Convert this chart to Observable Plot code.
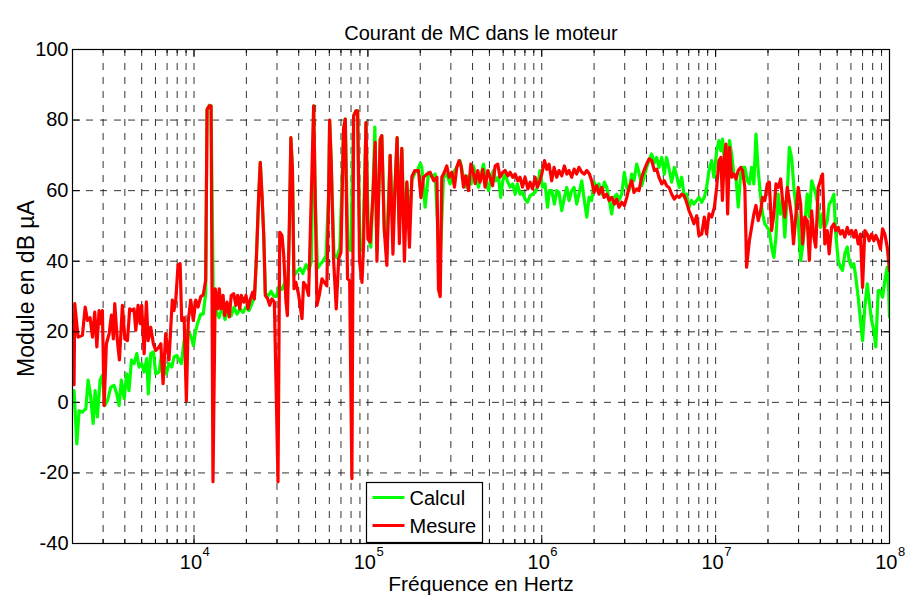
<!DOCTYPE html>
<html><head><meta charset="utf-8">
<script src="https://cdn.jsdelivr.net/npm/d3@7"></script>
<script src="https://cdn.jsdelivr.net/npm/@observablehq/plot@0.6"></script>
<style>
body{margin:0;background:#fff;}
svg{font-family:"Liberation Sans",Arial,Helvetica,sans-serif;}
</style>
</head><body><div id="chart"></div>
<script>
// ---- Data (log10 of frequency in Hz, level in dBµA) ----
const calculLogF = [
3.310,3.326,3.339,3.358,3.378,3.391,3.406,3.420,3.431,3.444,3.460,3.473,3.487,3.502,3.521,3.540,3.556,3.569,3.582,3.598,
3.613,3.626,3.640,3.655,3.671,3.684,3.699,3.713,3.728,3.737,3.751,3.766,3.780,3.799,3.812,3.828,3.841,3.856,3.872,3.885,
3.901,3.914,3.927,3.943,3.961,3.981,3.996,4.010,4.023,4.039,4.053,4.067,4.075,4.088,4.098,4.112,4.126,4.144,4.161,4.178,
4.195,4.213,4.230,4.247,4.264,4.282,4.299,4.316,4.333,4.348,4.358,4.372,4.381,4.391,4.401,4.410,4.425,4.443,4.460,4.474,
4.489,4.506,4.523,4.540,4.549,4.557,4.566,4.575,4.592,4.609,4.626,4.644,4.661,4.675,4.688,4.697,4.710,4.724,4.741,4.759,
4.774,4.780,4.789,4.805,4.822,4.839,4.860,4.870,4.885,4.902,4.918,4.931,4.941,4.954,4.971,4.989,5.003,5.017,5.029,5.040,
5.052,5.071,5.080,5.095,5.109,5.128,5.144,5.155,5.168,5.181,5.195,5.210,5.224,5.239,5.253,5.270,5.287,5.302,5.310,5.329,
5.349,5.368,5.387,5.406,5.417,5.435,5.454,5.473,5.493,5.511,5.530,5.550,5.565,5.579,5.594,5.607,5.622,5.636,5.651,5.665,
5.678,5.694,5.707,5.722,5.736,5.751,5.764,5.776,5.789,5.805,5.818,5.833,5.847,5.860,5.875,5.889,5.904,5.918,5.933,5.947,
5.962,5.975,5.990,6.004,6.019,6.033,6.044,6.057,6.073,6.086,6.099,6.115,6.130,6.144,6.157,6.172,6.186,6.201,6.214,6.230,
6.245,6.259,6.272,6.287,6.301,6.316,6.329,6.345,6.360,6.374,6.389,6.402,6.416,6.431,6.444,6.460,6.475,6.489,6.502,6.517,
6.530,6.546,6.559,6.575,6.588,6.603,6.617,6.632,6.648,6.661,6.674,6.690,6.705,6.718,6.734,6.747,6.763,6.776,6.791,6.805,
6.820,6.833,6.847,6.862,6.875,6.891,6.904,6.920,6.935,6.948,6.962,6.977,6.990,7.006,7.019,7.030,7.040,7.053,7.067,7.080,
7.092,7.105,7.117,7.130,7.144,7.155,7.168,7.182,7.194,7.207,7.220,7.232,7.245,7.259,7.270,7.283,7.297,7.309,7.322,7.335,
7.347,7.360,7.374,7.385,7.398,7.412,7.424,7.437,7.450,7.462,7.475,7.489,7.500,7.513,7.527,7.539,7.552,7.565,7.576,7.590,
7.603,7.615,7.628,7.642,7.653,7.667,7.680,7.691,7.705,7.718,7.730,7.743,7.757,7.768,7.782,7.795,7.806,7.820,7.833,7.845,
7.858,7.872,7.883,7.897,7.910,7.921,7.935,7.948,7.960,7.973,7.987,7.995,8.000
];
const calculDb = [
3.3,-11.8,-2.4,-2.8,-1.8,6.3,1.5,-6,3.3,-4.1,6.3,7.7,-0.9,0.5,4.3,4.8,2.4,-0.9,6.3,1.1,
8.1,3.3,12,11,13.8,10,11,8.6,12.4,2.4,13.8,14.3,8.1,8.6,13.3,11,8.1,11,10,12.9,
13.3,12,11,17.5,20.4,19,16.1,20.4,22.8,25,25,30.9,83,84.2,84,24,26,24,27,23.5,
26,24.5,27,25,26.5,25.5,27,26,28,30,40,58.6,68,58.6,47.3,31,30,31.5,30,30,
33,32,34,33,50,75,66,36,37,38,36.5,39,37.5,40,84,58,38,39,40,41.5,
58.6,80,68,42,41,44,77.5,80.3,44,43,81.2,82.6,82.6,44,43,79.3,47,44,59,78,
43,74.6,75.6,48,45,70,48,60,75,50,72,48,62,50,63,65,66,67.7,66.6,55.3,
65.2,63.8,64.7,45,42,63.8,64.7,61.9,65.2,66.6,68.5,63.8,61,64.2,61.9,67,63.8,61,64.7,67.5,
62.8,60,63.8,65.7,62.8,63.8,58.1,62.8,64.7,62.4,61,61.9,59,61.9,59,59.5,57.6,56.7,58.6,59,
59.5,61,65.7,61,61.9,55.3,60,60,56.2,60,59.5,54.3,58.1,60.9,57.2,60,60.9,56.2,59,62.8,
57.2,52.5,58.1,57.2,62.4,60.9,61.9,59,62.4,60.9,57.2,53.4,58.1,59,57.2,59,65.2,60.9,60,64.7,
62.8,67.5,65.2,61.4,63.8,66.6,68.5,70.4,67.9,69.4,66.6,69.4,64.7,69.4,65.7,62.4,66.6,64.2,60.9,63.8,
58.1,59,55.3,57.2,56.2,57.2,58.1,56.7,58.1,60.9,65.7,68.5,63.8,71.3,74.2,71.3,74.6,66.6,69.4,74.2,
70.4,64.7,63.8,55.3,64.7,66.6,66.6,62.8,61.9,66.6,61.9,76,65.7,58.1,53.4,50.6,49.6,48.7,44,41.1,
46.8,59,53.4,57.2,46.8,59,72.3,69.4,60.9,55.3,51.5,40.2,44,50.6,59,52.5,62.8,60.9,59,55.3,
49.6,53.4,49.6,51.5,56.2,57.2,59,47.7,40.2,38.3,37.4,42.1,44,40.2,38.3,39.3,35.5,29.8,23.2,17.5,
26.9,33.6,28.9,23.2,20.4,15.7,31.7,31.7,29.8,34.5,38.3,31.7,24.2
];
const mesureLogF = [
3.310,3.314,3.333,3.358,3.374,3.387,3.402,3.416,3.429,3.441,3.454,3.464,3.473,3.483,3.496,3.512,3.525,3.536,3.544,3.559,
3.571,3.588,3.602,3.617,3.630,3.645,3.655,3.665,3.678,3.690,3.699,3.713,3.726,3.736,3.751,3.766,3.780,3.799,3.809,3.822,
3.837,3.856,3.875,3.885,3.895,3.908,3.920,3.929,3.943,3.956,3.967,3.981,3.996,4.010,4.023,4.039,4.053,4.067,4.075,4.088,
4.098,4.109,4.122,4.136,4.145,4.155,4.167,4.176,4.190,4.203,4.214,4.228,4.241,4.251,4.263,4.272,4.286,4.299,4.310,4.324,
4.337,4.347,4.358,4.372,4.381,4.391,4.401,4.410,4.424,4.435,4.448,4.462,4.473,4.483,4.493,4.506,4.516,4.529,4.537,4.548,
4.557,4.566,4.575,4.586,4.602,4.621,4.630,4.644,4.659,4.672,4.688,4.697,4.707,4.720,4.736,4.749,4.764,4.774,4.780,4.789,
4.803,4.818,4.832,4.845,4.860,4.870,4.883,4.895,4.908,4.918,4.931,4.941,4.952,4.966,4.975,4.989,5.000,5.013,5.029,5.042,
5.052,5.071,5.080,5.094,5.109,5.128,5.144,5.155,5.168,5.181,5.195,5.210,5.224,5.239,5.253,5.270,5.291,5.305,5.320,5.339,
5.358,5.378,5.397,5.406,5.416,5.425,5.435,5.454,5.467,5.483,5.498,5.511,5.525,5.536,5.550,5.563,5.579,5.592,5.603,5.617,
5.632,5.645,5.661,5.674,5.690,5.703,5.717,5.732,5.747,5.760,5.776,5.789,5.805,5.818,5.833,5.847,5.862,5.875,5.889,5.904,
5.920,5.933,5.947,5.962,5.975,5.987,6.000,6.016,6.029,6.042,6.057,6.071,6.086,6.099,6.115,6.130,6.144,6.157,6.172,6.186,
6.201,6.214,6.230,6.245,6.259,6.274,6.287,6.301,6.316,6.329,6.345,6.358,6.374,6.387,6.402,6.418,6.431,6.444,6.460,6.475,
6.489,6.502,6.517,6.530,6.546,6.559,6.575,6.588,6.603,6.617,6.632,6.648,6.661,6.674,6.690,6.705,6.718,6.732,6.747,6.763,
6.776,6.791,6.805,6.820,6.833,6.847,6.862,6.875,6.891,6.904,6.920,6.935,6.948,6.962,6.977,6.993,7.006,7.019,7.030,7.039,
7.050,7.059,7.069,7.080,7.092,7.105,7.117,7.130,7.144,7.155,7.168,7.178,7.194,7.207,7.220,7.232,7.245,7.259,7.270,7.283,
7.297,7.309,7.322,7.335,7.347,7.360,7.374,7.385,7.398,7.412,7.424,7.437,7.448,7.462,7.475,7.489,7.500,7.513,7.527,7.539,
7.552,7.565,7.576,7.590,7.603,7.615,7.628,7.642,7.653,7.667,7.680,7.691,7.705,7.718,7.730,7.743,7.757,7.768,7.782,7.795,
7.806,7.820,7.833,7.845,7.858,7.872,7.883,7.897,7.910,7.921,7.935,7.948,7.960,7.973,7.987,8.000
];
const mesureDb = [
5,28,18.5,19,27,23.2,24,18.5,25.6,15.7,26,22.3,26,-0.9,16.6,19.5,24.7,18,28,17.5,
12,27.5,18,17.5,26.5,26,26.5,20.4,27.5,22.3,27.5,13.8,28.5,17.5,21.3,16.6,14.7,15.7,16.6,5.3,
19.5,12,29,26,29,38.9,39.3,23.2,24,0.5,23.2,29,23.2,29,27,30,30.4,34.6,83,84,
84,-22.5,32.2,26.5,32.2,26.5,30.3,24.6,28.4,24.2,30.3,30.8,27.5,30.3,26.5,30.3,28.4,30.3,26.5,29.3,
31.2,29.3,40,58.6,68,58.6,47.3,30.3,29.3,27.5,29.3,28.4,2,-22.5,48.2,47.3,41.6,28.4,24.6,50,
75,66,32.2,34,30.3,23.7,34,33,30.3,53.9,84,58.6,27.5,30.3,35,34,33,58.6,80,68,
40,26.5,40.7,42.5,77.5,80.3,35,34.5,-21.6,81.2,82.6,82.6,40,34,44.4,79.3,46.3,45.4,58.6,73.7,
40,74.6,75.6,49,38.8,70,42,60,75,45,72,40,62.5,44,64,65.7,65.7,58,63.8,64.7,
65.2,62.8,63.8,32,30,63.8,64.7,67,63.8,65.2,61,66.6,68.5,67,61,64.2,60,67.5,66,62,
65.7,62.4,66,61,65.7,63.8,61.4,67,67.5,63.8,65.2,65.7,64.2,65.2,63.8,64.7,62.8,63.8,61,63.8,
60.5,62.4,60.5,63.8,61,62.4,64.7,68.5,66,67.5,62.8,66.6,63.8,65.7,64.2,67,64.7,65.7,63.8,66.1,
64.7,66.6,65.2,64.7,65.7,64.7,62.8,59.5,61.4,59,60.9,58.1,59,57.2,58.1,56.2,57.6,55.3,56.7,55.8,
58.1,60.9,62.8,59.5,60.5,60,63.8,65.7,67.5,69,68.5,65.7,66.1,63.8,61.9,62.8,61.4,60.9,59,57.6,
58.5,58.1,59,58.5,56.7,54.3,52.5,50.6,52.9,47.3,47.7,52.5,47.7,53.4,52.5,55.3,60.9,68.5,69.4,57.2,
69.4,73.2,53.4,72.3,63.8,64.7,63.3,65.7,66.6,65.7,60.9,38.3,45.8,49.6,53.4,55.8,51.5,54.3,58.1,57.2,
61.9,62.4,48.7,53.4,61.9,60.9,63.3,57.2,52.5,60.9,57.2,52.5,44.9,53.4,60.9,56.2,44.9,52.5,51.5,40.2,
54.3,46.8,44,60.9,62.8,64.7,44.9,48.7,42.1,49.6,50.6,48.7,49.6,47.7,48.7,46.8,49.6,47.7,48.7,46.8,
48.7,44.9,47.7,32.6,48.7,47.7,45.8,47.7,45.8,47.3,45.8,43.5,49.2,47.7,44,37.4
];
const yTicks = [-40, -20, 0, 20, 40, 60, 80, 100];
const decadeExponents = [4, 5, 6, 7, 8];
const seriesNames = ["Calcul", "Mesure"];
const seriesColors = ["#00ff00", "#ff0000"];
const chartTitle = "Courant de MC dans le moteur";
const xLabel = "Fréquence en Hertz";
const yLabel = "Module en dB µA";

// ---- Build tables ----
const calcul = calculLogF.map((lf, i) => ({f: Math.pow(10, lf), v: calculDb[i]}));
const mesure = mesureLogF.map((lf, i) => ({f: Math.pow(10, lf), v: mesureDb[i]}));
const xDomain = [2e3, 1e8];
const majorX = decadeExponents.map(e => Math.pow(10, e));
const minorX = [];
for (let e = 3; e < 8; e++) for (let m = 2; m < 10; m++) { const f = m * Math.pow(10, e); if (f >= xDomain[0] && f < xDomain[1]) minorX.push(f); }
const gridX = minorX.concat(majorX);

const W = 905, H = 604, mL = 72, mR = 16, mT = 49, mB = 61;
const frameH = H - mT - mB, frameW = W - mL - mR;
const dash = "7,7";
const FONT = '"Liberation Sans", Arial, sans-serif';

const plot = Plot.plot({
  width: W, height: H,
  marginLeft: mL, marginRight: mR, marginTop: mT, marginBottom: mB,
  x: {type: "log", domain: xDomain, axis: null},
  y: {domain: [-40, 100], axis: null},
  style: {background: "white", color: "black", fontFamily: FONT, fontSize: "20px", overflow: "visible"},
  marks: [
    Plot.ruleX(gridX, {x: d => d, stroke: "#000", strokeOpacity: 0.8, strokeWidth: 1, strokeDasharray: dash}),
    Plot.ruleY(yTicks, {y: d => d, stroke: "#000", strokeOpacity: 0.8, strokeWidth: 1, strokeDasharray: dash}),
    Plot.line(calcul, {x: "f", y: "v", stroke: seriesColors[0], strokeWidth: 3.2, strokeLinejoin: "round", clip: true}),
    Plot.line(mesure, {x: "f", y: "v", stroke: seriesColors[1], strokeWidth: 3.2, strokeLinejoin: "round", clip: true}),
    // inward ticks
    Plot.tickX(majorX, {x: d => d, insetTop: frameH - 8, stroke: "#000"}),
    Plot.tickX(majorX, {x: d => d, insetBottom: frameH - 8, stroke: "#000"}),
    Plot.tickX(minorX, {x: d => d, insetTop: frameH - 4, stroke: "#000"}),
    Plot.tickX(minorX, {x: d => d, insetBottom: frameH - 4, stroke: "#000"}),
    Plot.tickY(yTicks, {y: d => d, insetRight: frameW - 8, stroke: "#000"}),
    Plot.tickY(yTicks, {y: d => d, insetLeft: frameW - 8, stroke: "#000"}),
    Plot.frame({stroke: "#000", strokeWidth: 1.2}),
    // y tick labels
    Plot.text(yTicks, {y: d => d, text: d => String(d), frameAnchor: "left", textAnchor: "end", dx: -4, fontSize: 20}),
    // x tick labels 10^n
    Plot.text(decadeExponents, {x: e => Math.pow(10, e), text: () => "10", frameAnchor: "bottom", textAnchor: "end", dx: 8, dy: 25, fontSize: 20}),
    Plot.text(decadeExponents, {x: e => Math.pow(10, e), text: e => String(e), frameAnchor: "bottom", textAnchor: "start", dx: 8.5, dy: 12, fontSize: 13}),
    // titles
    Plot.text([chartTitle], {text: d => d, frameAnchor: "top", textAnchor: "middle", dy: -24, fontSize: 20}),
    Plot.text([xLabel], {text: d => d, frameAnchor: "bottom", textAnchor: "middle", dy: 47, fontSize: 21}),
    Plot.text([yLabel], {text: d => d, frameAnchor: "left", textAnchor: "middle", dx: -46, dy: -8, rotate: -90, fontSize: 23})
  ]
});

// ---- Legend (box inside the plot, lower middle-left) ----
const svg = d3.select(plot);
const lg = svg.append("g").attr("font-family", FONT).attr("font-size", 20).attr("text-anchor", "start");
const lx = 366.5, ly = 482.5, lw = 116, lh = 60;
lg.append("rect").attr("x", lx).attr("y", ly).attr("width", lw).attr("height", lh).attr("fill", "white").attr("stroke", "black").attr("stroke-width", 1.2);
seriesNames.forEach((name, i) => {
  const cy = ly + 15 + i * 28;
  lg.append("line").attr("x1", lx + 6).attr("x2", lx + 38).attr("y1", cy).attr("y2", cy).attr("stroke", seriesColors[i]).attr("stroke-width", 3.2);
  lg.append("text").attr("x", lx + 43).attr("y", cy).attr("dy", "0.35em").attr("fill", "black").attr("text-anchor", "start").text(name);
});

document.getElementById("chart").appendChild(plot);
</script>
</body></html>
